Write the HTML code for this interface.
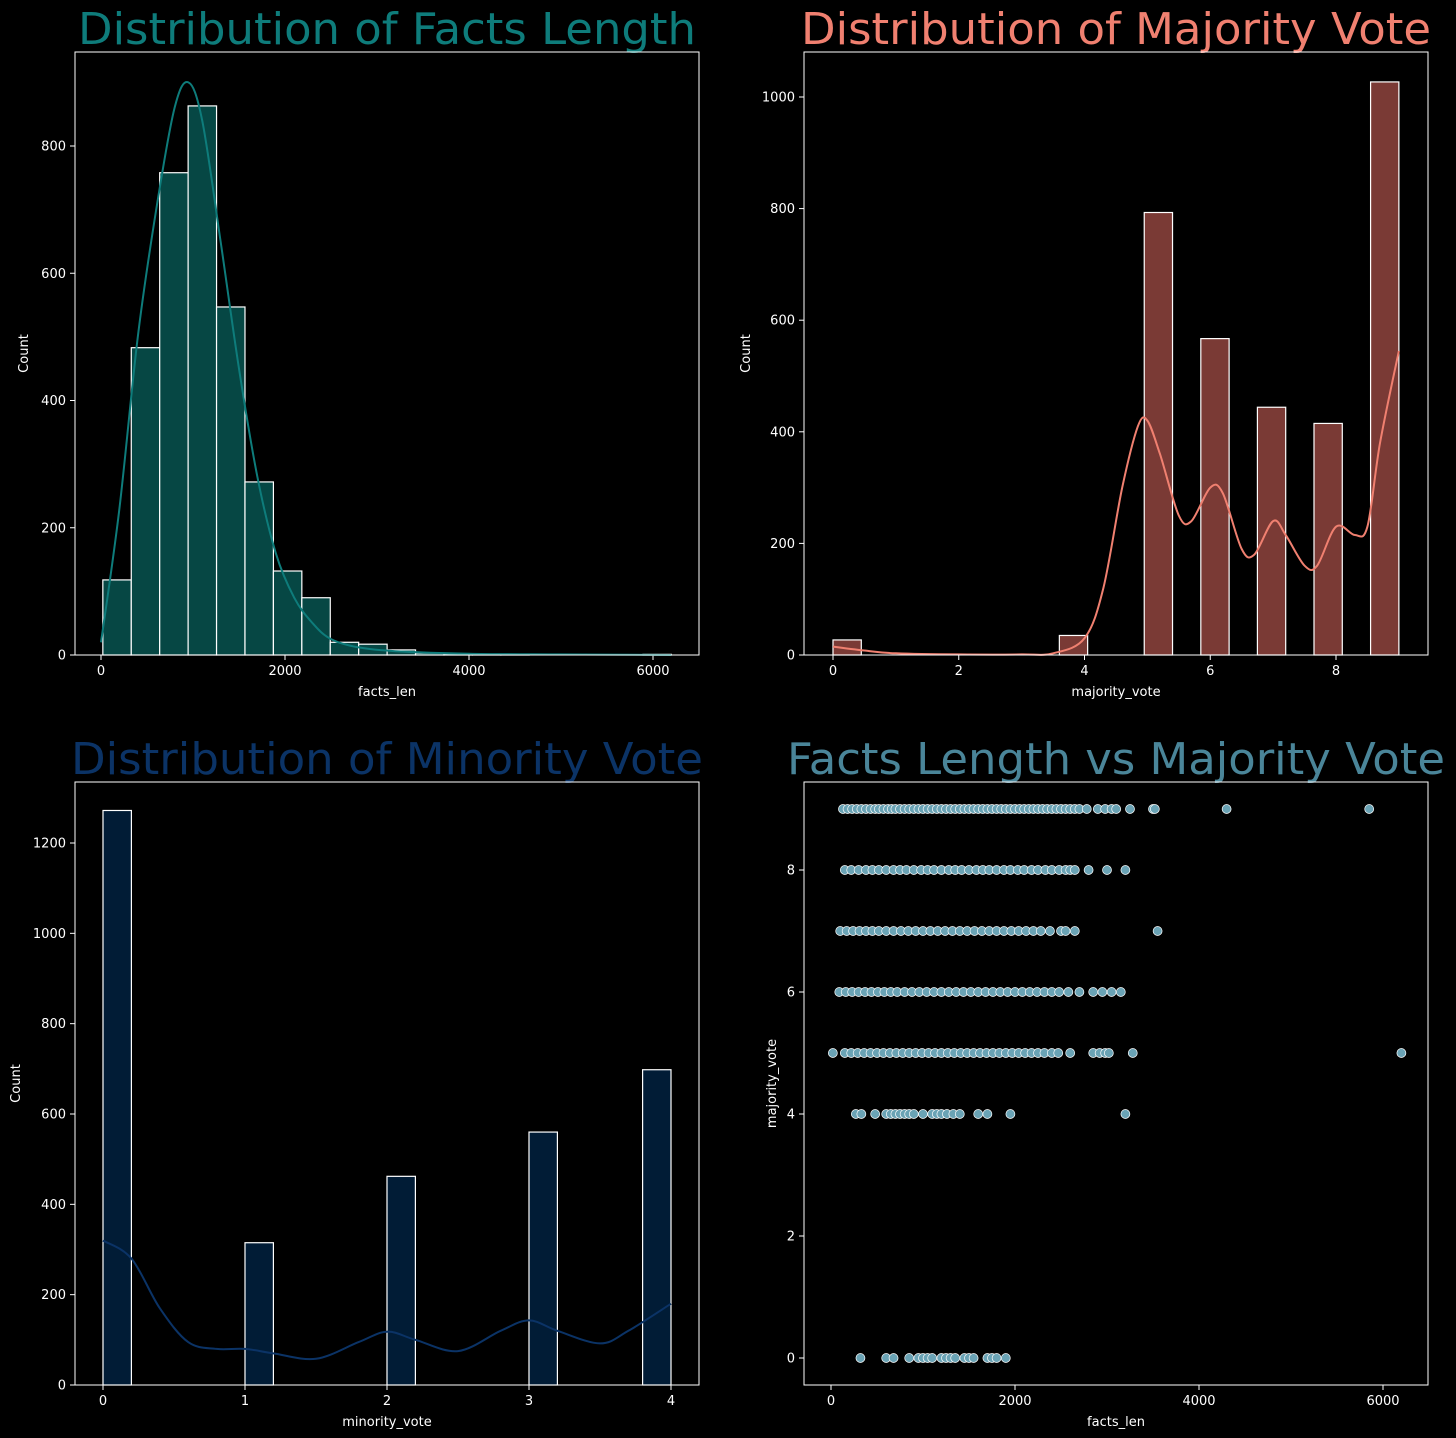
<!DOCTYPE html>
<html><head><meta charset="utf-8">
<style>
html,body{margin:0;padding:0;background:#000;}
svg{display:block;}
text{font-family:"DejaVu Sans","Liberation Sans",sans-serif;}
</style></head>
<body>
<svg id="fig" width="1456" height="1438" viewBox="0 0 1456 1438">
<rect x="0" y="0" width="1456" height="1438" fill="#000"/>
</svg>
<script>
// ---- Chart 1: facts length histogram ----
const factsBinStart = 20;
const factsBinWidth = 309;
const factsCounts = [118,483,758,863,547,272,132,90,20,17,8,3,2,1,1,0,0,0,0,1];
const factsKdeX = [0,200,400,600,800,950,1100,1300,1500,1700,1900,2100,2300,2500,2800,3200,4000,5000,6200];
const factsKdeY = [20,230,500,700,860,900,840,650,450,280,160,90,50,25,12,6,2,1,0];
const factsXTicks = [0,2000,4000,6000];
const factsYTicks = [0,200,400,600,800];

// ---- Chart 2: majority vote ----
const majBinEdges = [0,0.45,0.9,1.35,1.8,2.25,2.7,3.15,3.6,4.05,4.5,4.95,5.4,5.85,6.3,6.75,7.2,7.65,8.1,8.55,9];
const majCounts = [27,0,0,0,0,0,0,0,35,0,0,793,0,567,0,444,0,415,0,1027];
const majKdeX = [0,0.5,1,2,3,3.5,4,4.3,4.6,4.85,5,5.2,5.5,5.7,6,6.2,6.5,6.7,7,7.2,7.5,7.7,8,8.3,8.5,8.7,9];
const majKdeY = [15,8,3,1,1,3,30,120,300,410,420,360,250,240,300,290,190,180,240,215,160,160,230,215,230,380,545];
const majXTicks = [0,2,4,6,8];
const majYTicks = [0,200,400,600,800,1000];

// ---- Chart 3: minority vote ----
const minBinEdges = [0,0.2,0.4,0.6,0.8,1.0,1.2,1.4,1.6,1.8,2.0,2.2,2.4,2.6,2.8,3.0,3.2,3.4,3.6,3.8,4.0];
const minCounts = [1272,0,0,0,0,315,0,0,0,0,462,0,0,0,0,560,0,0,0,698];
const minKdeX = [0,0.2,0.4,0.6,0.8,1,1.2,1.5,1.8,2,2.2,2.5,2.8,3,3.2,3.5,3.7,4];
const minKdeY = [320,280,170,95,80,80,70,58,95,118,100,75,120,143,120,92,120,180];
const minXTicks = [0,1,2,3,4];
const minYTicks = [0,200,400,600,800,1000,1200];

// ---- Chart 4: scatter ----
const scatVotes = [9,8,7,6,5,4,0];
const scatLens = [
 [130,180,230,280,330,380,430,480,520,570,620,660,700,750,800,850,900,950,1000,1050,1100,1150,1200,1250,1300,1350,1400,1450,1500,1550,1600,1650,1700,1750,1800,1850,1900,1950,2000,2050,2100,2150,2200,2250,2300,2350,2400,2450,2500,2550,2600,2650,2700,2780,2900,2980,3050,3100,3250,3500,3520,4300,5850],
 [150,220,300,380,450,520,600,680,750,820,900,980,1050,1120,1200,1280,1350,1420,1500,1580,1650,1720,1800,1880,1950,2030,2100,2180,2250,2330,2400,2480,2550,2600,2650,2800,3000,3200],
 [100,170,240,310,380,450,520,600,680,760,840,920,1000,1080,1160,1240,1320,1400,1480,1560,1640,1720,1800,1880,1960,2040,2120,2200,2280,2380,2500,2550,2650,3550],
 [90,160,230,300,370,440,510,580,650,720,800,880,960,1040,1120,1200,1280,1360,1440,1520,1600,1680,1760,1840,1920,2000,2080,2160,2240,2320,2400,2480,2580,2700,2850,2950,3050,3150],
 [20,150,220,290,360,430,500,570,640,710,780,850,920,990,1060,1130,1200,1270,1340,1410,1480,1550,1620,1690,1760,1830,1900,1970,2040,2110,2180,2250,2320,2400,2470,2600,2850,2920,2980,3020,3280,6200],
 [270,330,480,600,650,700,750,800,850,900,1000,1100,1150,1200,1260,1330,1400,1600,1700,1950,3200],
 [320,600,680,850,950,1000,1050,1100,1200,1250,1300,1350,1450,1500,1550,1700,1750,1800,1900]
];
const scatXTicks = [0,2000,4000,6000];
const scatYTicks = [0,2,4,6,8];

const NS = "http://www.w3.org/2000/svg";
const svg = document.getElementById('fig');
function el(tag, attrs, parent){
  const e = document.createElementNS(NS, tag);
  for (const k in attrs) e.setAttribute(k, attrs[k]);
  (parent||svg).appendChild(e);
  return e;
}
function lin(d0,d1,r0,r1){ return v => r0 + (v-d0)*(r1-r0)/(d1-d0); }

function axesFrame(box, sx, sy, xt, yt, xlabel, ylabel, title, tcolor, name, ylabelX){
  const g = el('g', {});
  
  
  const t = el('text', {x:(box.x0+box.x1)/2, y:box.y0-8, fill:tcolor, 'font-size':44, 'text-anchor':'middle', textLength:title.len, lengthAdjust:'spacingAndGlyphs'}, g);
  t.textContent = title.text;
  
  
  xt.forEach(v => {
    const x = sx(v);
    el('line', {x1:x, x2:x, y1:box.y1, y2:box.y1+5, stroke:'#fff', 'stroke-width':1}, g);
    const tx = el('text', {x:x, y:box.y1+20, fill:'#fff', 'font-size':13, 'text-anchor':'middle'}, g);
    tx.textContent = v;
    
    
  });
  yt.forEach(v => {
    const y = sy(v);
    el('line', {x1:box.x0-5, x2:box.x0, y1:y, y2:y, stroke:'#fff', 'stroke-width':1}, g);
    const ty = el('text', {x:box.x0-9, y:y+4.5, fill:'#fff', 'font-size':13, 'text-anchor':'end'}, g);
    ty.textContent = v;
    
    
  });
  const xl = el('text', {x:(box.x0+box.x1)/2, y:box.y1+41, fill:'#fff', 'font-size':13, 'text-anchor':'middle'}, g);
  xl.textContent = xlabel;
  
  
  const yx = ylabelX, yy = (box.y0+box.y1)/2;
  const yl = el('text', {x:yx, y:yy, fill:'#fff', 'font-size':13, 'text-anchor':'middle', transform:`rotate(-90 ${yx} ${yy})`}, g);
  yl.textContent = ylabel;
  
  
  return g;
}
function frameRect(box){
  const r = el('rect', {x:box.x0, y:box.y0, width:box.x1-box.x0, height:box.y1-box.y0, fill:'none', stroke:'#fff', 'stroke-width':1});
  
  
}
function kde(xs, ys, sx, sy, color){
  const P = xs.map((x,i)=>[sx(x), sy(ys[i])]);
  let d = 'M'+P[0][0].toFixed(1)+','+P[0][1].toFixed(1);
  for (let i=0;i<P.length-1;i++){
    const p0 = P[Math.max(0,i-1)], p1 = P[i], p2 = P[i+1], p3 = P[Math.min(P.length-1,i+2)];
    const c1x = p1[0]+(p2[0]-p0[0])/6, c1y = p1[1]+(p2[1]-p0[1])/6;
    const c2x = p2[0]-(p3[0]-p1[0])/6, c2y = p2[1]-(p3[1]-p1[1])/6;
    d += ` C${c1x.toFixed(1)},${c1y.toFixed(1)} ${c2x.toFixed(1)},${c2y.toFixed(1)} ${p2[0].toFixed(1)},${p2[1].toFixed(1)}`;
  }
  const p = el('path', {d:d, fill:'none', stroke:color, 'stroke-width':2, 'stroke-linejoin':'round'});
  
  
}

// Chart 1
(function(){
  const box = {x0:75,x1:699,y0:52,y1:655};
  const sx = lin(0,6000,101,653), sy = lin(0,800,655,146);
  axesFrame(box,sx,sy,factsXTicks,factsYTicks,'facts_len','Count',{text:'Distribution of Facts Length',len:618},'#0e7c7b','chart-facts-length',28);
  factsCounts.forEach((c,i)=>{
    if(!c) return;
    const a = factsBinStart + i*factsBinWidth, b = a + factsBinWidth;
    const r = el('rect', {x:sx(a), y:sy(c), width:sx(b)-sx(a), height:sy(0)-sy(c), fill:'#064744', stroke:'#fff', 'stroke-width':1.2});
    
    
  });
  kde(factsKdeX,factsKdeY,sx,sy,'#0e7c7b');
  frameRect(box);
})();

// Chart 2
(function(){
  const box = {x0:804,x1:1428,y0:52,y1:655};
  const sx = lin(0,8,833,1336), sy = lin(0,1000,655,97);
  axesFrame(box,sx,sy,majXTicks,majYTicks,'majority_vote','Count',{text:'Distribution of Majority Vote',len:630},'#f08070','chart-majority-vote',750);
  majCounts.forEach((c,i)=>{
    if(!c) return;
    const a = majBinEdges[i], b = majBinEdges[i+1];
    const r = el('rect', {x:sx(a), y:sy(c), width:sx(b)-sx(a), height:sy(0)-sy(c), fill:'#7a3a35', stroke:'#fff', 'stroke-width':1.2});
    
    
  });
  kde(majKdeX,majKdeY,sx,sy,'#f08070');
  frameRect(box);
})();

// Chart 3
(function(){
  const box = {x0:75,x1:699,y0:782,y1:1385};
  const sx = lin(0,4,103,671), sy = lin(0,1200,1385,843);
  axesFrame(box,sx,sy,minXTicks,minYTicks,'minority_vote','Count',{text:'Distribution of Minority Vote',len:632},'#0b3366','chart-minority-vote',20);
  minCounts.forEach((c,i)=>{
    if(!c) return;
    const a = minBinEdges[i], b = minBinEdges[i+1];
    const r = el('rect', {x:sx(a), y:sy(c), width:sx(b)-sx(a), height:sy(0)-sy(c), fill:'#011c36', stroke:'#fff', 'stroke-width':1.2});
    
    
  });
  kde(minKdeX,minKdeY,sx,sy,'#0b3366');
  frameRect(box);
})();

// Chart 4
(function(){
  const box = {x0:804,x1:1428,y0:782,y1:1385};
  const sx = lin(0,6000,831,1383), sy = lin(0,8,1358,870);
  axesFrame(box,sx,sy,scatXTicks,scatYTicks,'facts_len','majority_vote',{text:'Facts Length vs Majority Vote',len:658},'#4a8599','chart-scatter',776);
  scatVotes.forEach((v,i)=>{
    scatLens[i].forEach(x=>{
      const c = el('circle', {cx:sx(x), cy:sy(v), r:4.5, fill:'#6aa3b5', stroke:'#fff', 'stroke-width':0.7});
      
      
    });
  });
  frameRect(box);
})();
</script>
</body></html>
